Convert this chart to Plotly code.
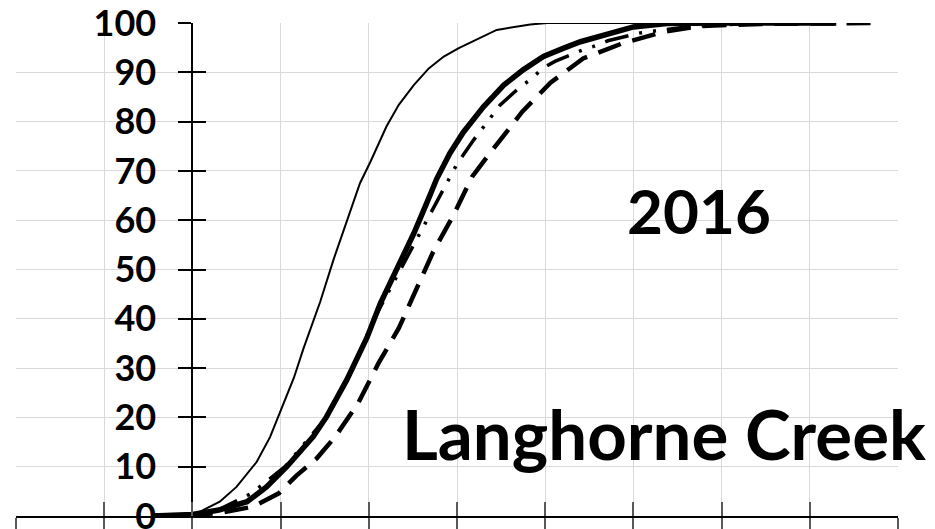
import plotly.graph_objects as go

# x in arbitrary units (one gridline = 10), y = cumulative %
x_thin = [-4.5, 0, 1, 3.1, 5.0, 7.3, 8.8, 9.9, 11.5, 12.6, 14.5, 16.0, 17.5, 19.0,
          20.2, 22.0, 23.4, 25.1, 26.8, 28.5, 30.2, 32.2, 34.5, 38.3, 40.2, 55]
y_thin = [0, 0.3, 1, 2.9, 5.9, 11, 16, 21, 28, 34, 43.5, 52, 59.7, 67.5,
          71.9, 79, 83.4, 87.4, 90.8, 93.2, 94.9, 96.6, 98.6, 99.7, 100, 100]

x_thick = [-4.5, 0, 3, 6.2, 8.4, 10.7, 13.7, 15.2, 17.5, 19.8, 21.3, 23.2, 25.1,
           26.6, 27.7, 29.2, 30.7, 33.0, 35.3, 37.5, 39.8, 42.1, 44.0, 50.0, 53.8, 60, 73]
y_thick = [0, 0.3, 1.2, 2.9, 5.9, 10, 16.1, 20.1, 27.6, 36.2, 43.1, 50.2, 57.3,
           63.6, 68.4, 73.6, 77.8, 83, 87.4, 90.5, 93.2, 94.9, 96.2, 99.2, 99.9, 100, 100]

x_dashdot = [-4.5, 0, 3, 6.7, 8.1, 10.5, 15.2, 18.2, 20.6, 23.6, 25.3, 26.2, 27.7,
             29.1, 30.0, 31.9, 32.8, 33.9, 34.9, 37.2, 38.4, 39.7, 41.1, 44.2, 45.4,
             47.1, 50.8, 56.4, 64.4, 70]
y_dashdot = [0, 0.3, 1.3, 4.6, 6.6, 10, 20, 30, 40, 50, 55.6, 58.7, 63.8,
             68.6, 71.4, 76.3, 78.5, 80.9, 83.4, 87.1, 88.6, 90.8, 92.2, 94.5, 95.2,
             96.4, 98, 99.3, 100, 100]

x_dash = [-4.5, 0, 3, 6.9, 9.8, 11.8, 14.1, 16.2, 18.8, 21.1, 23.4, 25.4, 27.3,
          29.6, 31.7, 34.0, 37.4, 40.6, 44.3, 48.8, 53.4, 57.6, 64.4, 78]
y_dash = [0, 0.2, 0.6, 1.9, 4.6, 8.2, 11.7, 16.1, 22.9, 31, 38.1, 45.8, 53.6,
          61, 68.8, 74.2, 82, 87.9, 92.8, 95.9, 98.2, 99.4, 99.8, 100]

y_ticks = list(range(0, 101, 10))

FONT = "Lato"
GRID = "#d9d9d9"

fig = go.Figure()

fig.add_trace(go.Scatter(x=x_thin, y=y_thin, mode="lines",
                         line=dict(color="black", width=2)))
fig.add_trace(go.Scatter(x=x_thick, y=y_thick, mode="lines",
                         line=dict(color="black", width=5.5)))
fig.add_trace(go.Scatter(x=x_dashdot, y=y_dashdot, mode="lines",
                         line=dict(color="black", width=3.5,
                                   dash="24px,11px,3px,11px,3px,11px")))
fig.add_trace(go.Scatter(x=x_dash, y=y_dash, mode="lines",
                         line=dict(color="black", width=4.5, dash="24px,12px")))
# empty trace so the overlay axes (inner half of the crossing ticks) get drawn
fig.add_trace(go.Scatter(x=[None], y=[None], xaxis="x2", yaxis="y2",
                         hoverinfo="skip"))

# the page body adds an 8px offset, so margins are shifted to compensate
fig.update_layout(
    width=935, height=529,
    margin=dict(l=8, r=45, t=15, b=21, autoexpand=False),
    plot_bgcolor="white", paper_bgcolor="white",
    showlegend=False,
    font=dict(family=FONT, color="black"),
    xaxis=dict(range=[-20, 80], dtick=10, tick0=0, automargin=False,
               showgrid=True, gridcolor=GRID, gridwidth=1,
               zeroline=False, showline=True, linecolor="black", linewidth=1.5,
               ticks="outside", ticklen=13, tickcolor="#595959", tickwidth=1.5,
               showticklabels=False),
    yaxis=dict(range=[0, 100], tickvals=y_ticks, automargin=False,
               showgrid=True, gridcolor=GRID, gridwidth=1,
               zeroline=False, showline=True, linecolor="black", linewidth=2,
               anchor="free", position=0.2,
               ticks="outside", ticklen=13, tickcolor="black", tickwidth=2,
               ticklabelstandoff=15, ticklabeloverflow="allow",
               tickfont=dict(family=FONT, size=36, color="black", weight="bold")),
    xaxis2=dict(range=[-20, 80], dtick=10, tick0=0, overlaying="x", automargin=False,
                showgrid=False, zeroline=False, showline=False,
                ticks="inside", ticklen=14, tickcolor="#595959", tickwidth=1.5,
                showticklabels=False),
    yaxis2=dict(range=[0, 100], tickvals=y_ticks, overlaying="y", automargin=False,
                anchor="free", position=0.2,
                showgrid=False, zeroline=False, showline=False,
                ticks="inside", ticklen=13, tickcolor="black", tickwidth=2,
                showticklabels=False),
)

# white text boxes that hide the gridlines
fig.add_shape(type="rect", xref="paper", yref="paper", layer="between",
              x0=(527 - 16) / 882, x1=(871 - 16) / 882,
              y0=(516 - 299) / 493, y1=(516 - 162) / 493,
              fillcolor="white", line=dict(width=0))
fig.add_shape(type="rect", xref="paper", yref="paper", layer="between",
              x0=(383 - 16) / 882, x1=1.05,
              y0=(516 - 492) / 493, y1=(516 - 385) / 493,
              fillcolor="white", line=dict(width=0))

fig.add_annotation(text="2016", xref="paper", yref="paper",
                   x=(699 - 16) / 882, y=(516 - 210) / 493,
                   xanchor="center", yanchor="middle", showarrow=False,
                   font=dict(family=FONT, size=62, color="black", weight="bold"))
fig.add_annotation(text="Langhorne Creek", xref="paper", yref="paper",
                   x=(664 - 16) / 882, y=(516 - 433) / 493,
                   xanchor="center", yanchor="middle", showarrow=False,
                   font=dict(family=FONT, size=69, color="black", weight="bold"))

fig.write_html("out.html")
